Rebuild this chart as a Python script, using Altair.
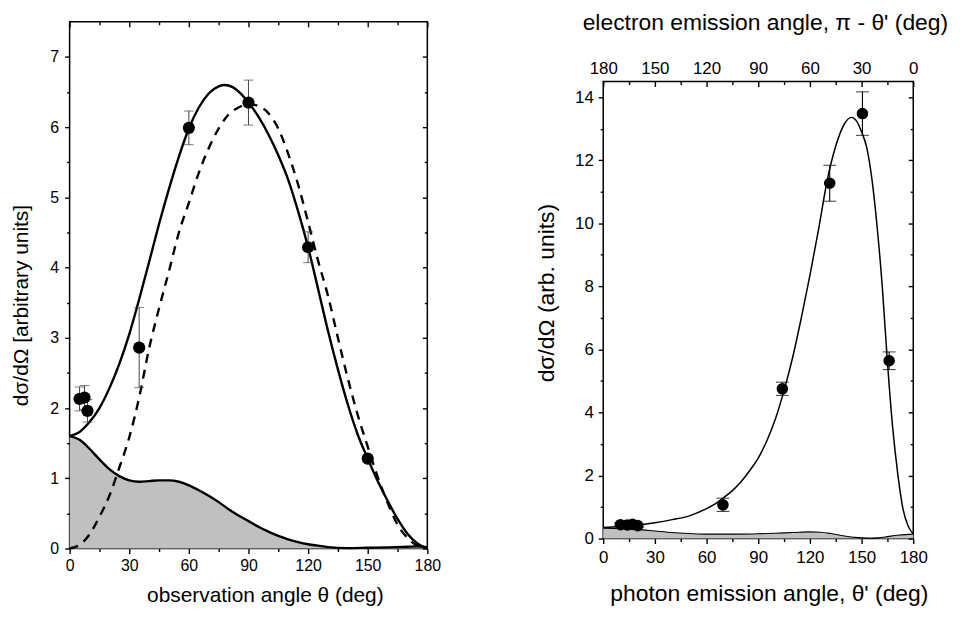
import altair as alt
import pandas as pd

F = "Liberation Sans"

# ---------------- Left panel data ----------------
theta_pts_L = [5, 7.5, 9, 35, 60, 90, 120, 150]
val_pts_L = [2.13, 2.15, 1.96, 2.86, 5.99, 6.35, 4.29, 1.28]
err_pts_L = [0.17, 0.17, 0.16, 0.57, 0.24, 0.32, 0.22, 0.05]

theta_solid_L = [0, 5, 10, 15, 20, 25, 30, 35, 40, 45, 50, 55, 60, 65, 70, 75, 78, 82, 86, 90,
                 95, 100, 105, 110, 115, 120, 125, 130, 135, 140, 145, 150, 155, 160, 165, 170, 175, 180]
val_solid_L = [1.60, 1.66, 1.80, 2.00, 2.28, 2.63, 3.05, 3.55, 4.08, 4.62, 5.12, 5.58, 5.98, 6.28, 6.48, 6.58, 6.60, 6.57, 6.48, 6.35,
               6.15, 5.90, 5.60, 5.25, 4.80, 4.29, 3.70, 3.10, 2.55, 2.05, 1.62, 1.28, 0.96, 0.68, 0.42, 0.21, 0.07, 0.0]

theta_dash_L = [0, 5, 10, 15, 20, 25, 30, 35, 40, 45, 50, 55, 60, 65, 70, 75, 80, 85, 90,
                95, 100, 105, 110, 115, 120, 125, 130, 135, 140, 145, 150, 155, 160, 165, 170, 175, 180]
val_dash_L = [0.0, 0.05, 0.20, 0.45, 0.75, 1.15, 1.58, 2.15, 2.85, 3.42, 3.95, 4.50, 4.92, 5.35, 5.70, 5.98, 6.18, 6.28, 6.33,
              6.30, 6.20, 5.98, 5.62, 5.18, 4.65, 4.10, 3.60, 3.00, 2.42, 1.90, 1.45, 1.02, 0.65, 0.34, 0.15, 0.04, 0.0]

theta_bg_L = [0, 5, 10, 15, 20, 25, 30, 35, 40, 45, 50, 55, 60, 65, 70, 75, 80, 85, 90, 95, 100,
              105, 110, 115, 120, 125, 130, 140, 150, 160, 170, 175, 180]
val_bg_L = [1.60, 1.55, 1.42, 1.27, 1.13, 1.03, 0.97, 0.95, 0.96, 0.97, 0.97, 0.95, 0.90, 0.83, 0.75, 0.66, 0.56, 0.47, 0.39, 0.31, 0.24,
            0.18, 0.13, 0.09, 0.06, 0.04, 0.02, 0.005, 0.01, 0.015, 0.025, 0.03, 0.02]

# ---------------- Right panel data ----------------
theta_pts_R = [10, 14, 17, 20, 69.5, 104, 131.5, 150.5, 166]
val_pts_R = [0.44, 0.43, 0.45, 0.41, 1.07, 4.75, 11.27, 13.48, 5.64]
err_pts_R = [0.05, 0.05, 0.05, 0.05, 0.21, 0.21, 0.57, 0.69, 0.28]

theta_curve_R = [0, 10, 20, 30, 40, 50, 60, 65, 70, 75, 80, 85, 90, 95, 100, 105, 110, 115, 120, 125,
                 130, 135, 140, 144, 147, 150, 153, 156, 159, 162, 165, 168, 171, 174, 177, 180]
val_curve_R = [0.35, 0.38, 0.42, 0.50, 0.60, 0.72, 0.95, 1.10, 1.30, 1.52, 1.80, 2.15, 2.55, 3.10, 3.80, 4.70, 5.75, 7.00, 8.35, 9.80,
               11.35, 12.45, 13.15, 13.36, 13.25, 12.90, 12.40, 11.40, 9.90, 8.00, 5.60, 3.55, 2.05, 0.95, 0.40, 0.15]

theta_bg_R = [0, 10, 20, 30, 40, 50, 60, 70, 80, 90, 100, 110, 120, 126, 132, 140, 148, 155, 160, 166, 172, 180]
val_bg_R = [0.33, 0.32, 0.29, 0.24, 0.19, 0.16, 0.14, 0.14, 0.14, 0.15, 0.17, 0.19, 0.21, 0.20, 0.16, 0.08, 0.03, 0.01, 0.02, 0.07, 0.11, 0.14]

# axis tick values
x_major = [0, 30, 60, 90, 120, 150, 180]
x_minor = [15, 45, 75, 105, 135, 165]
yL_major = [0, 1, 2, 3, 4, 5, 6, 7]
yL_minor = [0.5, 1.5, 2.5, 3.5, 4.5, 5.5, 6.5]
yR_major = [0, 2, 4, 6, 8, 10, 12, 14]
yR_minor = [1, 3, 5, 7, 9, 11, 13]

# ---------------- frames ----------------
def pts_frame(t, v, e):
    return pd.DataFrame({"t": t, "v": v, "lo": [a - b for a, b in zip(v, e)], "hi": [a + b for a, b in zip(v, e)]})

def caps_frame(t, v, e):
    lo = pd.DataFrame({"t": t, "c": [a - b for a, b in zip(v, e)]})
    hi = pd.DataFrame({"t": t, "c": [a + b for a, b in zip(v, e)]})
    return pd.concat([lo, hi], ignore_index=True)

df_pts_L = pts_frame(theta_pts_L, val_pts_L, err_pts_L)
df_caps_L = caps_frame(theta_pts_L, val_pts_L, err_pts_L)
df_solid_L = pd.DataFrame({"t": theta_solid_L, "v": val_solid_L})
df_dash_L = pd.DataFrame({"t": theta_dash_L, "v": val_dash_L})
df_bg_L = pd.DataFrame({"t": theta_bg_L, "v": val_bg_L})

df_pts_R = pts_frame(theta_pts_R, val_pts_R, err_pts_R)
df_caps_R = caps_frame(theta_pts_R, val_pts_R, err_pts_R)
df_curve_R = pd.DataFrame({"t": theta_curve_R, "v": val_curve_R})
df_bg_R = pd.DataFrame({"t": theta_bg_R, "v": val_bg_R})


def ax(orient, values, size, offset=None, **kw):
    d = dict(orient=orient, values=values, tickSize=size, labels=False, title=None,
             grid=False, gridOpacity=0, gridColor="transparent", domain=False, zindex=2,
             labelFlush=False, labelOverlap=False,
             tickColor="black", tickWidth=1.4, tickOpacity=1, labelColor="black", titleColor="black",
             labelFont=F, titleFont=F, titleFontWeight="normal")
    if offset is not None:
        d["offset"] = offset
    d.update(kw)
    return alt.Axis(**d)


# ================= Left panel =================
WL, HL = 360, 530
xsL = alt.Scale(domain=[0, 180], nice=False, zero=False)
ysL = alt.Scale(domain=[0, 7.5], nice=False, zero=False)

xL_a = ax("bottom", x_major, 5, labels=True, labelFontSize=16, labelPadding=4,
          title="observation angle θ (deg)", titleFontSize=21, titleX=196.5, titleY=47,
          titleBaseline="middle", titleAlign="center")
xL_b = ax("bottom", x_minor, 3)
xL_c = ax("bottom", x_major, 5, offset=-HL)
xL_d = ax("bottom", x_minor, 3, offset=-HL)
yL_a = ax("left", yL_major, 5, labels=True, labelFontSize=16, labelPadding=6,
          title="dσ/dΩ [arbitrary units]", titleFontSize=21, titleX=-48, titleY=285,
          titleBaseline="middle", titleAlign="center")
yL_b = ax("left", yL_minor, 3)
yL_c = ax("left", yL_major, 5, offset=-WL)
yL_d = ax("left", yL_minor, 3, offset=-WL)

bgL = alt.Chart(df_bg_L).mark_area(color="#c0c0c0", opacity=1, interpolate="monotone").encode(
    x=alt.X("t:Q", scale=xsL, axis=xL_a), y=alt.Y("v:Q", scale=ysL, axis=yL_a))
bgLineL = alt.Chart(df_bg_L).mark_line(color="black", strokeWidth=2.4, interpolate="monotone").encode(
    x=alt.X("t:Q", scale=xsL, axis=xL_b), y=alt.Y("v:Q", scale=ysL, axis=yL_b))
solidL = alt.Chart(df_solid_L).mark_line(color="black", strokeWidth=2.4, interpolate="monotone").encode(
    x=alt.X("t:Q", scale=xsL, axis=xL_c), y=alt.Y("v:Q", scale=ysL, axis=yL_c))
dashL = alt.Chart(df_dash_L).mark_line(color="black", strokeWidth=2.4, strokeDash=[9, 7], interpolate="monotone").encode(
    x=alt.X("t:Q", scale=xsL, axis=xL_d), y=alt.Y("v:Q", scale=ysL, axis=yL_d))
rulesL = alt.Chart(df_pts_L).mark_rule(color="#444444", strokeWidth=1).encode(
    x=alt.X("t:Q", scale=xsL, axis=None), y=alt.Y("lo:Q", scale=ysL, axis=None), y2="hi:Q")
capsL = alt.Chart(df_caps_L).mark_tick(color="#444444", orient="horizontal", size=10, thickness=1).encode(
    x=alt.X("t:Q", scale=xsL, axis=None), y=alt.Y("c:Q", scale=ysL, axis=None))
ptsL = alt.Chart(df_pts_L).mark_circle(color="black", opacity=1, size=150).encode(
    x=alt.X("t:Q", scale=xsL, axis=None), y=alt.Y("v:Q", scale=ysL, axis=None))

left = alt.layer(bgL, bgLineL, solidL, dashL, rulesL, capsL, ptsL).resolve_axis(
    x="independent", y="independent").properties(width=WL, height=HL)

# ================= Right panel =================
WR, HR = 312, 460
xsR = alt.Scale(domain=[0, 180], nice=False, zero=False)
ysR = alt.Scale(domain=[0, 14.5], nice=False, zero=False)

xR_a = ax("bottom", x_major, 5, labels=True, labelFontSize=17, labelPadding=6,
          title="photon emission angle, θ' (deg)", titleFontSize=23, titleX=166.7, titleY=55.7,
          titleBaseline="middle", titleAlign="center")
xR_b = ax("bottom", x_minor, 3)
xR_c = ax("top", x_major, 0, ticks=False, labels=True, labelFontSize=17, labelPadding=4,
          labelExpr="180 - datum.value",
          title="electron emission angle, π - θ' (deg)", titleFontSize=23, titleX=162.7, titleY=-59.5,
          titleBaseline="middle", titleAlign="center")
xR_d = ax("bottom", x_major, 5, offset=-HR)
xR_e = ax("bottom", x_minor, 3, offset=-HR)
yR_a = ax("left", yR_major, 5, labels=True, labelFontSize=17, labelPadding=5,
          title="dσ/dΩ (arb. units)", titleFontSize=23, titleX=-57.3, titleY=212.5,
          titleBaseline="middle", titleAlign="center")
yR_b = ax("left", yR_minor, 3)
yR_c = ax("left", yR_major, 5, offset=-WR)
yR_d = ax("left", yR_minor, 3, offset=-WR)

bgR = alt.Chart(df_bg_R).mark_area(color="#c0c0c0", opacity=1, interpolate="monotone").encode(
    x=alt.X("t:Q", scale=xsR, axis=xR_a), y=alt.Y("v:Q", scale=ysR, axis=yR_a))
bgLineR = alt.Chart(df_bg_R).mark_line(color="black", strokeWidth=1.1, interpolate="monotone").encode(
    x=alt.X("t:Q", scale=xsR, axis=xR_b), y=alt.Y("v:Q", scale=ysR, axis=yR_b))
curveR = alt.Chart(df_curve_R).mark_line(color="black", strokeWidth=1.5, interpolate="monotone").encode(
    x=alt.X("t:Q", scale=xsR, axis=xR_c), y=alt.Y("v:Q", scale=ysR, axis=yR_c))
rulesR = alt.Chart(df_pts_R).mark_rule(color="black", strokeWidth=1.1).encode(
    x=alt.X("t:Q", scale=xsR, axis=xR_d), y=alt.Y("lo:Q", scale=ysR, axis=yR_d), y2="hi:Q")
capsR = alt.Chart(df_caps_R).mark_tick(color="black", orient="horizontal", size=13, thickness=1.1).encode(
    x=alt.X("t:Q", scale=xsR, axis=xR_e), y=alt.Y("c:Q", scale=ysR, axis=None))
ptsR = alt.Chart(df_pts_R).mark_circle(color="black", opacity=1, size=135).encode(
    x=alt.X("t:Q", scale=xsR, axis=None), y=alt.Y("v:Q", scale=ysR, axis=None))

right = alt.layer(bgR, bgLineR, curveR, rulesR, capsR, ptsR).resolve_axis(
    x="independent", y="independent").properties(width=WR, height=HR)

# invisible 1px spacer above the right panel (negative spacing lifts the panel's top guides)
spacer_val = [0]
spacer = alt.Chart(pd.DataFrame({"a": spacer_val})).mark_point(opacity=0).encode(
    x=alt.X("a:Q", axis=None), y=alt.Y("a:Q", axis=None)).properties(
    width=1, height=1, view=alt.ViewBackground(strokeOpacity=0, fillOpacity=0))
right_col = alt.vconcat(spacer, right, spacing=-16)

chart = alt.concat(left, right_col, columns=2, spacing=92,
                   padding={"left": 2, "top": 0, "right": 5, "bottom": 0},
                   background="white").configure_view(
    stroke="black", strokeWidth=1.5).configure_axis(
    grid=False, tickColor="black", labelColor="black", titleColor="black",
    labelFont=F, titleFont=F, titleFontWeight="normal")

chart.save("out.html", embed_options={"renderer": "svg", "actions": False})
